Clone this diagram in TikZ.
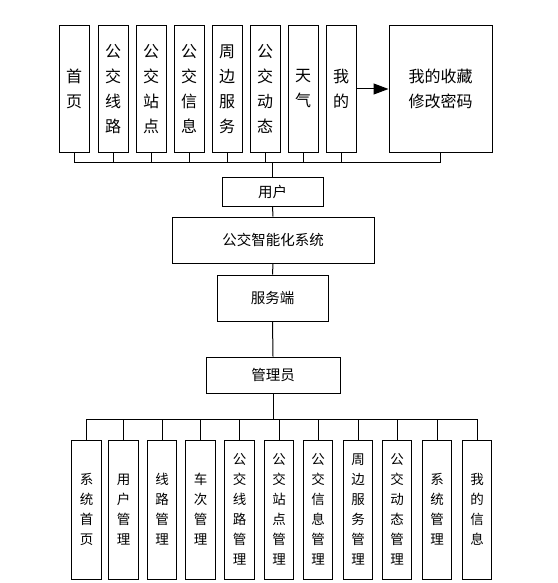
\documentclass[tikz,border=0pt]{standalone}
\usepackage{fontspec}
\setmainfont{Noto Sans CJK SC}
\usetikzlibrary{arrows.meta}
\tikzset{
  bx/.style={draw=black, line width=1pt, fill=white, inner sep=0pt, align=center},
  topbox/.style={bx, minimum width=30pt, minimum height=126pt, font=\fontsize{16}{25}\selectfont},
  botbox/.style={bx, minimum width=29.5pt, minimum height=139pt, font=\fontsize{13.5}{20}\selectfont},
  midbox/.style={bx, font=\fontsize{14.5}{17}\selectfont},
  ln/.style={draw=black, line width=1pt}
}
\begin{document}
\begin{tikzpicture}[x=1pt,y=-1pt]
\useasboundingbox (0,0) rectangle (557,583);
% top row
\node[topbox] (t1) at (74,89) {首\\页};
\node[topbox] (t2) at (113,89) {公\\交\\线\\路};
\node[topbox] (t3) at (151,89) {公\\交\\站\\点};
\node[topbox] (t4) at (189,89) {公\\交\\信\\息};
\node[topbox] (t5) at (227,89) {周\\边\\服\\务};
\node[topbox] (t6) at (265,89) {公\\交\\动\\态};
\node[topbox] (t7) at (303,89) {天\\气};
\node[topbox] (t8) at (341,89) {我\\的};
\node[topbox, minimum width=103pt] (big) at (440.5,89) {我的收藏\\修改密码};
\draw[ln, -{Triangle[length=15pt,width=11pt]}] (t8.east) -- (big.west);
% middle column
\node[midbox, minimum width=101pt, minimum height=29pt] (user) at (272.5,191.5) {用户};
\node[midbox, minimum width=202pt, minimum height=46pt] (sys) at (273,240) {公交智能化系统};
\node[midbox, minimum width=111pt, minimum height=46pt] (srv) at (272.5,298) {服务端};
\node[midbox, minimum width=134pt, minimum height=36pt] (adm) at (273,375) {管理员};
% top bus
\coordinate (tbus) at (272.5,162);
\draw[ln] (t1.south |- tbus) -- (big.south |- tbus);
\foreach \n in {t1,t2,t3,t4,t5,t6,t7,t8,big} {\draw[ln] (\n.south) -- (\n.south |- tbus);}
\draw[ln] (tbus) -- (user.north);
\draw[ln] (user.south) -- (sys.north);
\draw[ln] (sys.south) -- (srv.north);
\draw[ln] (srv.south) -- (adm.north);
% bottom row
\node[botbox] (b1) at (86.5,509.5) {系\\统\\首\\页};
\node[botbox] (b2) at (123.5,509.5) {用\\户\\管\\理};
\node[botbox] (b3) at (162,509.5) {线\\路\\管\\理};
\node[botbox] (b4) at (200.5,509.5) {车\\次\\管\\理};
\node[botbox] (b5) at (239.5,509.5) {公\\交\\线\\路\\管\\理};
\node[botbox] (b6) at (279,509.5) {公\\交\\站\\点\\管\\理};
\node[botbox] (b7) at (318,509.5) {公\\交\\信\\息\\管\\理};
\node[botbox] (b8) at (358,509.5) {周\\边\\服\\务\\管\\理};
\node[botbox] (b9) at (397,509.5) {公\\交\\动\\态\\管\\理};
\node[botbox] (b10) at (437,509.5) {系\\统\\管\\理};
\node[botbox] (b11) at (477,509.5) {我\\的\\信\\息};
\coordinate (bbus) at (273,419);
\draw[ln] (adm.south) -- (bbus);
\draw[ln] (b1.north |- bbus) -- (b11.north |- bbus);
\foreach \n in {b1,b2,b3,b4,b5,b6,b7,b8,b9,b10,b11} {\draw[ln] (\n.north |- bbus) -- (\n.north);}
\end{tikzpicture}
\end{document}
